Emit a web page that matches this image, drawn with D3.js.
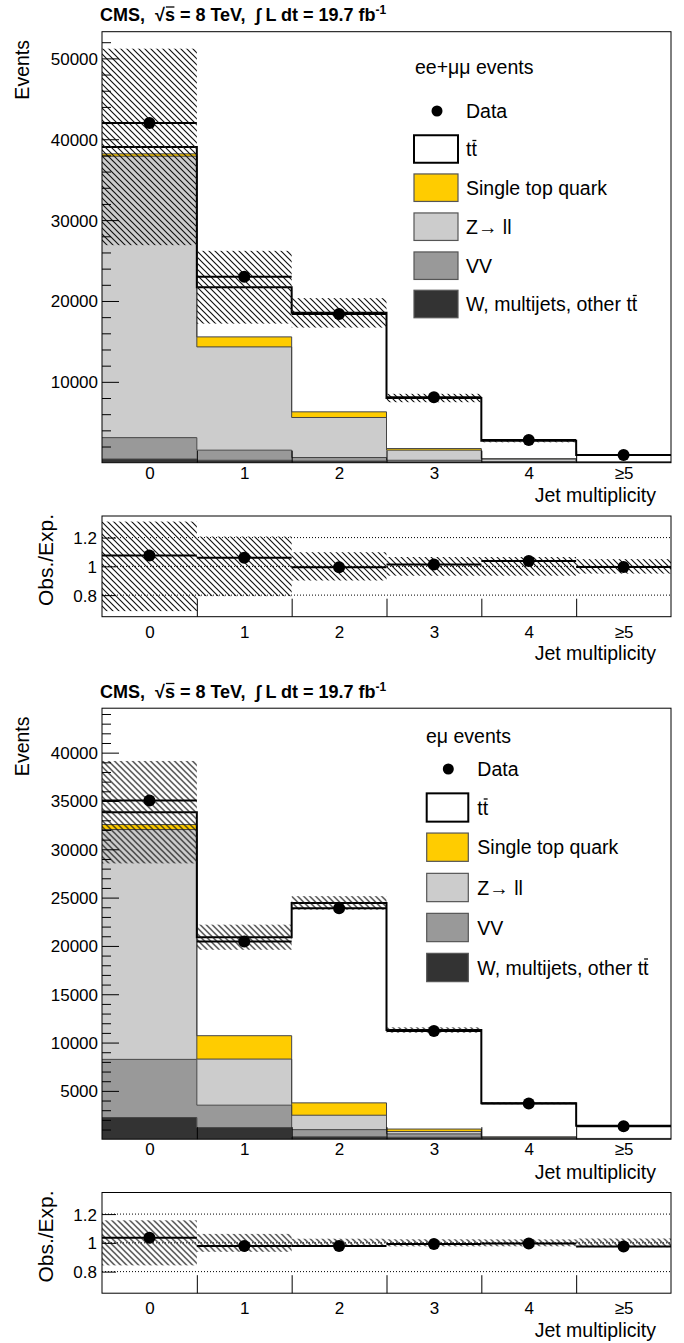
<!DOCTYPE html>
<html>
<head>
<meta charset="UTF-8">
<title>Jet multiplicity</title>
<script src="https://d3js.org/d3.v7.min.js"></script>
<style>
  body { margin: 0; background: #fff; }
  svg { font-family: "Liberation Sans", Arial, Helvetica, sans-serif; }
  .tick text { font-size: 17px; fill: #000; }
  .tick line { stroke: #000; }
</style>
</head>
<body>
<script>
// jet multiplicity bins
var bins = ["0", "1", "2", "3", "4", "\u22655"];

// ee + mumu channel (events per bin)
var llData      = [42000, 23000, 18400, 8100, 2800, 950];
var llTtbar     = [850, 6140, 12240, 6250, 2200, 855];
var llSingleTop = [300, 1240, 700, 200, 50, 20];
var llZll       = [34800, 12770, 4950, 1250, 300, 40];
var llVV        = [2650, 1250, 440, 200, 100, 20];
var llOther     = [450, 300, 200, 100, 50, 20];
var llUnc       = [12150, 4500, 1820, 520, 175, 48];
var llTicks     = [10000, 20000, 30000, 40000, 50000];

// e mu channel
var emData      = [35050, 20450, 23900, 11200, 3700, 1350];
var emTtbar     = [1280, 10190, 20690, 10250, 3465, 1305];
var emSingleTop = [520, 2420, 1280, 250, 70, 30];
var emZll       = [23780, 4770, 1490, 250, 60, 20];
var emVV        = [6020, 2320, 740, 350, 60, 15];
var emOther     = [2240, 1200, 250, 200, 60, 15];
var emUnc       = [5300, 1300, 700, 280, 90, 42];
var emTicks     = [5000, 10000, 15000, 20000, 25000, 30000, 35000, 40000];

var ratioTicks = [0.8, 1, 1.2];
var legendLabels = ["tt", "Single top quark", "Z\u2192 ll", "VV", "W, multijets, other tt"];
var keys = ["other", "vv", "zll", "st", "tt"];
var colors = { tt: "#ffffff", st: "#ffcc00", zll: "#cccccc", vv: "#999999", other: "#333333" };
var legendKeys = ["tt", "st", "zll", "vv", "other"];

var W = 684, H = 1343;
var X0 = 102, X1 = 671;

var svg = d3.select("body").append("svg")
    .attr("width", W)
    .attr("height", H);

var defs = svg.append("defs");
var pat = defs.append("pattern")
    .attr("id", "hatch")
    .attr("patternUnits", "userSpaceOnUse")
    .attr("width", 6).attr("height", 6);
pat.append("path")
    .attr("d", "M0,0L6,6M-1,5L1,7M5,-1L7,1")
    .attr("stroke", "#111")
    .attr("stroke-width", 1.15);

var x = d3.scaleLinear().domain([-0.5, 5.5]).range([X0, X1]);

function stepPoints(values) {
  var pts = values.map(function(v, i) { return { e: i - 0.5, v: v }; });
  pts.push({ e: 5.5, v: values[values.length - 1] });
  return pts;
}

function overlineChar(parent, textSel, idx, rise) {
  var node = textSel.node();
  var ext = node.getExtentOfChar(idx);
  var base = +textSel.attr("y");
  parent.append("line")
      .attr("x1", ext.x + 1).attr("x2", ext.x + ext.width - 0.5)
      .attr("y1", base - rise).attr("y2", base - rise)
      .attr("stroke", "#000").attr("stroke-width", 1.3);
}

function drawPanel(cfg) {
  var g = svg.append("g").attr("transform", "translate(0," + cfg.dy + ")");
  var top = 31.7, bottom = 462.7;
  var rTop = 516, rBottom = 616.7;

  var y = d3.scaleLinear().domain([0, cfg.yMax]).range([bottom, top]);
  var yr = d3.scaleLinear().domain([0.65, 1.35]).range([rBottom, rTop]);

  var clipId = "clip" + cfg.id, rclipId = "rclip" + cfg.id;
  defs.append("clipPath").attr("id", clipId).append("rect")
      .attr("x", X0).attr("y", top + cfg.dy).attr("width", X1 - X0).attr("height", bottom - top);
  defs.append("clipPath").attr("id", rclipId).append("rect")
      .attr("x", X0).attr("y", rTop + cfg.dy).attr("width", X1 - X0).attr("height", rBottom - rTop);

  // header
  var head = g.append("text")
      .attr("x", 100).attr("y", 21)
      .style("font-size", "18px").style("font-weight", "bold")
      .style("white-space", "pre");
  head.append("tspan").text("CMS,  \u221A");
  head.append("tspan").text("s");
  head.append("tspan").text(" = 8 TeV,  \u222B L dt = 19.7 fb");
  head.append("tspan").attr("dy", -7).style("font-size", "12px").text("-1");
  overlineChar(g, head, 7, 14);

  // stacked backgrounds
  var rows = bins.map(function(b, i) {
    return { other: cfg.other[i], vv: cfg.vv[i], zll: cfg.zll[i], st: cfg.st[i], tt: cfg.tt[i] };
  });
  var series = d3.stack().keys(keys)(rows);
  var totals = rows.map(function(r) { return r.other + r.vv + r.zll + r.st + r.tt; });

  var plot = g.append("g").attr("clip-path", "url(#" + clipId + ")")
      .attr("transform", "translate(0," + (-cfg.dy) + ")")
      .append("g").attr("transform", "translate(0," + cfg.dy + ")");

  var area = d3.area().curve(d3.curveStepAfter)
      .x(function(d) { return x(d.e); })
      .y0(function(d) { return y(d.lo); })
      .y1(function(d) { return y(d.hi); });
  var line = d3.line().curve(d3.curveStepAfter)
      .x(function(d) { return x(d.e); })
      .y(function(d) { return y(d.v); });

  series.forEach(function(s) {
    var pts = s.map(function(d, i) { return { e: i - 0.5, lo: d[0], hi: d[1] }; });
    pts.push({ e: 5.5, lo: s[5][0], hi: s[5][1] });
    plot.append("path").attr("d", area(pts)).attr("fill", colors[s.key]).attr("stroke", "none");
  });
  series.slice().reverse().forEach(function(s) {
    if (s.key === "tt") return;
    plot.append("path")
        .attr("d", line(stepPoints(s.map(function(d) { return d[1]; }))))
        .attr("fill", "none").attr("stroke", "#444").attr("stroke-width", 1);
  });
  plot.append("path")
      .attr("d", line(stepPoints(totals)))
      .attr("fill", "none").attr("stroke", "#000").attr("stroke-width", 2);

  // uncertainty band
  plot.selectAll(".band").data(totals).enter().append("rect")
      .attr("x", function(d, i) { return x(i - 0.5); })
      .attr("width", function(d, i) { return x(i + 0.5) - x(i - 0.5); })
      .attr("y", function(d, i) { return y(d + cfg.unc[i]); })
      .attr("height", function(d, i) { return y(d - cfg.unc[i]) - y(d + cfg.unc[i]); })
      .attr("fill", "url(#hatch)");

  // data
  plot.selectAll(".dline").data(cfg.data).enter().append("line")
      .attr("x1", function(d, i) { return x(i - 0.5); })
      .attr("x2", function(d, i) { return x(i + 0.5); })
      .attr("y1", function(d) { return y(d); })
      .attr("y2", function(d) { return y(d); })
      .attr("stroke", "#000").attr("stroke-width", 2);
  plot.selectAll(".dot").data(cfg.data).enter().append("circle")
      .attr("cx", function(d, i) { return x(i); })
      .attr("cy", function(d) { return y(d); })
      .attr("r", 6).attr("fill", "#000");

  // frame and axes
  g.append("rect").attr("x", X0).attr("y", top).attr("width", X1 - X0).attr("height", bottom - top)
      .attr("fill", "none").attr("stroke", "#000").attr("stroke-width", 1);

  var minor = d3.range(0, cfg.yMax, cfg.minorStep).filter(function(v) { return v > 0 && cfg.ticks.indexOf(v) < 0; });
  g.append("g").attr("transform", "translate(" + X0 + ",0)")
      .call(d3.axisLeft(y).tickValues(minor).tickSize(-9).tickFormat(""))
      .call(function(a) { a.select(".domain").remove(); });
  g.append("g").attr("transform", "translate(" + X0 + ",0)")
      .call(d3.axisLeft(y).tickValues(cfg.ticks).tickSize(-17).tickPadding(4).tickFormat(d3.format("d")))
      .call(function(a) { a.select(".domain").remove(); a.selectAll("text").attr("dy", "0.35em"); });

  var edges = [0.5, 1.5, 2.5, 3.5, 4.5];
  g.append("g").attr("transform", "translate(0," + bottom + ")")
      .call(d3.axisBottom(x).tickValues(edges).tickSize(-12).tickFormat(""))
      .call(function(a) { a.select(".domain").remove(); });
  g.append("g").attr("transform", "translate(0," + bottom + ")")
      .call(d3.axisBottom(x).tickValues(d3.range(6)).tickSize(0).tickPadding(4)
        .tickFormat(function(i) { return bins[i]; }))
      .call(function(a) { a.select(".domain").remove(); });

  g.append("text").attr("x", 656).attr("y", 502).attr("text-anchor", "end")
      .style("font-size", "19.5px").text("Jet multiplicity");
  g.append("text").attr("transform", "translate(28.5,40) rotate(-90)").attr("text-anchor", "end")
      .style("font-size", "19.5px").text("Events");

  // ratio panel
  var rp = g.append("g").attr("clip-path", "url(#" + rclipId + ")")
      .attr("transform", "translate(0," + (-cfg.dy) + ")")
      .append("g").attr("transform", "translate(0," + cfg.dy + ")");

  ratioTicks.forEach(function(t) {
    rp.append("line").attr("x1", X0).attr("x2", X1).attr("y1", yr(t)).attr("y2", yr(t))
        .attr("stroke", "#000").attr("stroke-width", 1).attr("stroke-dasharray", "1,2");
  });

  rp.selectAll(".rband").data(totals).enter().append("rect")
      .attr("x", function(d, i) { return x(i - 0.5); })
      .attr("width", function(d, i) { return x(i + 0.5) - x(i - 0.5); })
      .attr("y", function(d, i) { return yr(1 + cfg.unc[i] / d); })
      .attr("height", function(d, i) { return yr(1 - cfg.unc[i] / d) - yr(1 + cfg.unc[i] / d); })
      .attr("fill", "url(#hatch)");

  var ratio = cfg.data.map(function(d, i) { return d / totals[i]; });
  rp.selectAll(".rline").data(ratio).enter().append("line")
      .attr("x1", function(d, i) { return x(i - 0.5); })
      .attr("x2", function(d, i) { return x(i + 0.5); })
      .attr("y1", function(d) { return yr(d); })
      .attr("y2", function(d) { return yr(d); })
      .attr("stroke", "#000").attr("stroke-width", 2);
  rp.selectAll(".rdot").data(ratio).enter().append("circle")
      .attr("cx", function(d, i) { return x(i); })
      .attr("cy", function(d) { return yr(d); })
      .attr("r", 6).attr("fill", "#000");

  g.append("rect").attr("x", X0).attr("y", rTop).attr("width", X1 - X0).attr("height", rBottom - rTop)
      .attr("fill", "none").attr("stroke", "#000").attr("stroke-width", 1);

  g.append("g").attr("transform", "translate(" + X0 + ",0)")
      .call(d3.axisLeft(yr).tickValues(ratioTicks).tickSize(-14).tickPadding(5)
        .tickFormat(function(d) { return d === 1 ? "1" : d3.format(".1f")(d); }))
      .call(function(a) { a.select(".domain").remove(); a.selectAll("text").attr("dy", "0.35em"); });
  g.append("g").attr("transform", "translate(0," + rBottom + ")")
      .call(d3.axisBottom(x).tickValues(edges).tickSize(-18).tickFormat(""))
      .call(function(a) { a.select(".domain").remove(); a.selectAll("line").attr("stroke", "#333"); });
  g.append("g").attr("transform", "translate(0," + rBottom + ")")
      .call(d3.axisBottom(x).tickValues(d3.range(6)).tickSize(0).tickPadding(9)
        .tickFormat(function(i) { return bins[i]; }))
      .call(function(a) { a.select(".domain").remove(); });

  g.append("text").attr("x", 656).attr("y", 660).attr("text-anchor", "end")
      .style("font-size", "19.5px").text("Jet multiplicity");
  g.append("text").attr("transform", "translate(53,560) rotate(-90)").attr("text-anchor", "middle")
      .style("font-size", "21px").text("Obs./Exp.");
}

function drawLegend(lg) {
  var g = svg.append("g").style("font-size", "19.5px");
  g.append("text").attr("x", lg.hx).attr("y", lg.hy + 7).text(lg.title);
  g.append("circle").attr("cx", lg.dotX).attr("cy", lg.dataY).attr("r", 5.5).attr("fill", "#000");
  g.append("text").attr("x", lg.tx).attr("y", lg.dataY + 7).text("Data");
  legendKeys.forEach(function(k, i) {
    var cy = lg.rows[i];
    g.append("rect")
        .attr("x", lg.bx).attr("y", cy - lg.bh / 2).attr("width", lg.bw).attr("height", lg.bh)
        .attr("fill", colors[k])
        .attr("stroke", k === "tt" ? "#000" : "#555")
        .attr("stroke-width", k === "tt" ? 2 : 1.2);
    var t = g.append("text").attr("x", lg.tx).attr("y", cy + 7).text(legendLabels[i]);
    if (legendLabels[i].slice(-2) === "tt") overlineChar(g, t, legendLabels[i].length - 1, 15.5);
  });
}

drawPanel({ id: "ll", dy: 0, yMax: 53300, minorStep: 2000, ticks: llTicks,
  data: llData, tt: llTtbar, st: llSingleTop, zll: llZll, vv: llVV, other: llOther, unc: llUnc });
drawPanel({ id: "em", dy: 676.5, yMax: 44600, minorStep: 1000, ticks: emTicks,
  data: emData, tt: emTtbar, st: emSingleTop, zll: emZll, vv: emVV, other: emOther, unc: emUnc });

drawLegend({ title: "ee+\u03BC\u03BC events", hx: 415, hy: 67, dotX: 437, dataY: 111, tx: 466,
  bx: 414, bw: 44, bh: 27.5, rows: [149, 187.7, 226.7, 265.7, 304] });
drawLegend({ title: "e\u03BC events", hx: 426, hy: 735.7, dotX: 448.3, dataY: 769, tx: 477.3,
  bx: 426.7, bw: 41.6, bh: 28.3, rows: [807.5, 847.2, 887.5, 927.5, 967.5] });
</script>
</body>
</html>
